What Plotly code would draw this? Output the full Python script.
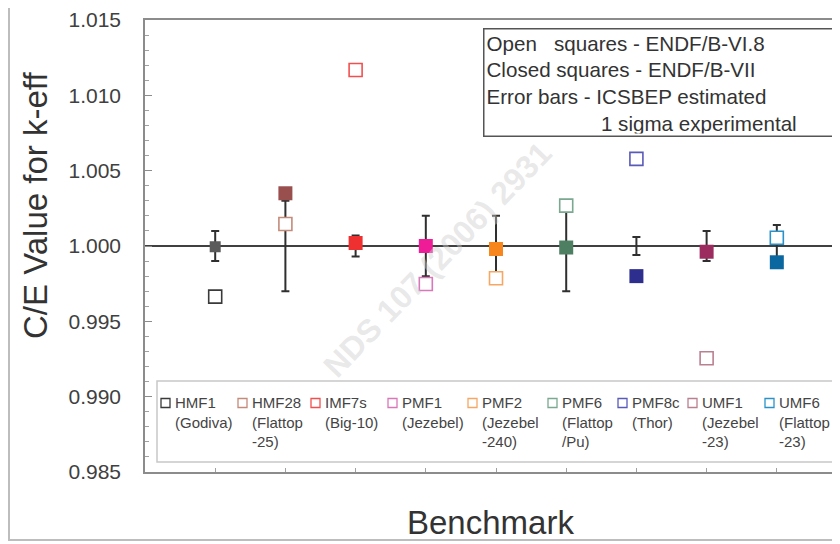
import plotly.graph_objects as go

# ---------------- data ----------------
categories = ["HMF1", "HMF28", "IMF7s", "PMF1", "PMF2", "PMF6", "PMF8c", "UMF1", "UMF6"]
legend_labels = ["HMF1<br>(Godiva)", "HMF28<br>(Flattop<br>-25)", "IMF7s<br>(Big-10)",
                 "PMF1<br>(Jezebel)", "PMF2<br>(Jezebel<br>-240)", "PMF6<br>(Flattop<br>/Pu)",
                 "PMF8c<br>(Thor)", "UMF1<br>(Jezebel<br>-23)", "UMF6<br>(Flattop<br>-23)"]
endf_b_vi8 = [0.99664, 1.00146, 1.01168, 0.99748, 0.99786, 1.00268, 1.00578, 0.99255, 1.00055]
endf_b_vii = [0.99995, 1.00350, 1.00020, 1.00000, 0.99980, 0.99990, 0.99800, 0.99962, 0.99892]
experiment = [1.0, 1.0, 1.0, 1.0, 1.0, 1.0, 1.0, 1.0, 1.0]
exp_sigma = [0.0010, 0.0030, 0.0007, 0.0020, 0.0020, 0.0030, 0.0006, 0.0010, 0.0014]
y_ticks = [0.985, 0.990, 0.995, 1.000, 1.005, 1.010, 1.015]

# ---------------- style ----------------
closed_colors = ["#5a5a5a", "#9a4f4f", "#ee3030", "#ee1c96", "#f7861f",
                 "#4f7f63", "#2e2e8f", "#9c2c60", "#0b679f"]
open_colors = ["#3a3a3a", "#c48a7a", "#f25050", "#d878b8", "#f5a865",
               "#7aa890", "#5a5ab8", "#b98090", "#2a92c9"]
closed_sizes = [11, 14, 14, 14, 14, 14, 14, 14, 14]

# page body has an 8px margin: the figure is placed at (8, 8) in the window
OFF = 8
W, H = 840 - OFF, 544 - OFF
L, R, T, B = 145 - OFF, 0, 20 - OFF, 544 - 472
PW, PH = W - L - R, H - T - B


def px(x):  # window pixel -> paper x
    return (x - OFF - L) / PW


def py(y):  # window pixel -> paper y
    return (H - B - (y - OFF)) / PH


FONT = "Liberation Sans, Arial, sans-serif"

fig = go.Figure()

# experimental error bars about 1.0
fig.add_trace(go.Scatter(
    x=categories, y=experiment, mode="markers",
    marker=dict(size=1, color="rgba(0,0,0,0)"),
    error_y=dict(type="data", array=exp_sigma, visible=True,
                 color="#2f2f2f", thickness=2, width=4),
    showlegend=False, hoverinfo="skip"))

# ENDF/B-VI.8 open squares
fig.add_trace(go.Scatter(
    x=categories, y=endf_b_vi8, mode="markers", name="ENDF/B-VI.8",
    marker=dict(symbol="square", size=13, color="white", opacity=1,
                line=dict(color=open_colors, width=1.6)),
    showlegend=False))

# ENDF/B-VII closed squares
fig.add_trace(go.Scatter(
    x=categories, y=endf_b_vii, mode="markers", name="ENDF/B-VII",
    marker=dict(symbol="square", size=closed_sizes, color=closed_colors, opacity=1,
                line=dict(width=0)),
    showlegend=False))

shapes = []
annotations = []

# line at C/E = 1
shapes.append(dict(type="line", xref="paper", yref="y", x0=0, x1=1, y0=1.0, y1=1.0,
                   line=dict(color="#404040", width=2), layer="below"))

# outer frame
shapes.append(dict(type="rect", xref="paper", yref="paper",
                   x0=px(9), x1=px(860), y0=py(540), y1=py(0),
                   line=dict(color="#bdbdbd", width=2)))

# benchmark key box
shapes.append(dict(type="rect", xref="paper", yref="paper",
                   x0=px(157), x1=px(836), y0=py(462), y1=py(381),
                   line=dict(color="#c8c8c8", width=1.5), fillcolor="white"))
legend_px = [161, 238, 311, 388, 468, 548, 618, 688, 765]
for lab, col, lx in zip(legend_labels, open_colors, legend_px):
    shapes.append(dict(type="rect", xref="paper", yref="paper",
                       x0=px(lx), x1=px(lx + 9), y0=py(407.5), y1=py(398.5),
                       line=dict(color=col, width=1.3), fillcolor="white"))
    annotations.append(dict(xref="paper", yref="paper", x=px(lx + 12), y=py(392),
                            xanchor="left", yanchor="top", align="left", showarrow=False,
                            text=lab, font=dict(family=FONT, size=15, color="#444444")))

# info box
nb = "\u00a0"
info = ("Open" + nb * 3 + "squares - ENDF/B-VI.8<br>Closed squares - ENDF/B-VII<br>"
        "Error bars - ICSBEP estimated<br>" + nb * 20 + "1 sigma experimental")
annotations.append(dict(xref="paper", yref="paper", x=px(483), y=py(28),
                        xanchor="left", yanchor="top", align="left", valign="top",
                        showarrow=False, text=info, width=344, height=102,
                        bordercolor="#555555", borderwidth=1.5, borderpad=2,
                        bgcolor="white",
                        font=dict(family=FONT, size=20.6, color="#333333")))

# y title
annotations.append(dict(xref="paper", yref="paper", x=px(35), y=py(206),
                        xanchor="center", yanchor="middle", textangle=-90,
                        showarrow=False, text="C/E Value for k-eff",
                        font=dict(family=FONT, size=33, color="#333333")))
# x title
annotations.append(dict(xref="paper", yref="paper", x=px(490), y=py(522),
                        xanchor="center", yanchor="middle",
                        showarrow=False, text="Benchmark",
                        font=dict(family=FONT, size=33, color="#333333")))

# watermark
annotations.append(dict(xref="paper", yref="paper", x=px(437), y=py(260),
                        xanchor="center", yanchor="middle", textangle=-46,
                        showarrow=False, text="<b>NDS 107 (2006) 2931</b>",
                        font=dict(family=FONT, size=32, color="rgba(205,205,205,0.45)")))

fig.update_layout(
    width=W, height=H,
    margin=dict(l=L, r=R, t=T, b=B, pad=0),
    paper_bgcolor="white", plot_bgcolor="white",
    showlegend=False,
    shapes=shapes, annotations=annotations,
    font=dict(family=FONT, color="#404040"),
)

fig.update_xaxes(
    type="category", categoryorder="array", categoryarray=categories,
    range=[-1, 8.9], showgrid=False, zeroline=False,
    showline=True, linecolor="#8c8c8c", linewidth=1.5, mirror=True,
    ticks="inside", ticklen=4, tickcolor="#a0a0a0", showticklabels=False,
    fixedrange=True)

fig.update_yaxes(
    range=[0.985, 1.015], tickvals=y_ticks, tickformat=".3f",
    showgrid=False, zeroline=False,
    showline=True, linecolor="#8c8c8c", linewidth=1.5,
    ticks="inside", ticklen=7, tickcolor="#8c8c8c", tickwidth=1,
    minor=dict(dtick=0.001, ticks="inside", ticklen=4, tickcolor="#a0a0a0", showgrid=False),
    tickfont=dict(family=FONT, size=21, color="#404040"),
    ticklabelstandoff=18,
    fixedrange=True)

fig.write_html("out.html")
